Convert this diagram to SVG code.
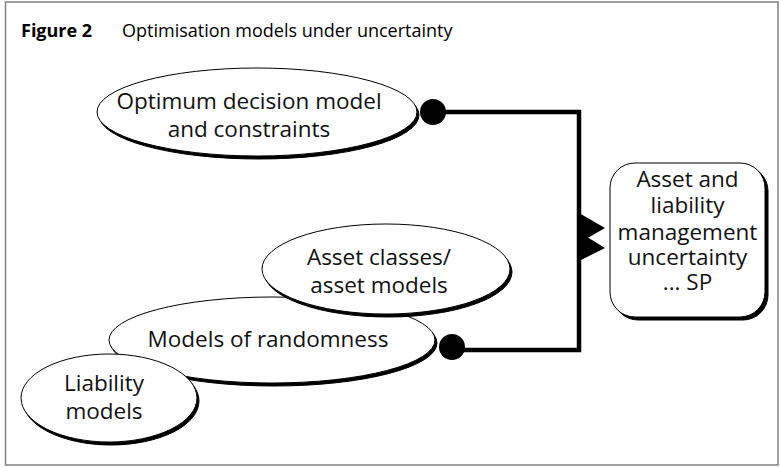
<svg xmlns="http://www.w3.org/2000/svg" width="781" height="467" viewBox="0 0 781 467">
<style>
  .frame { fill: #fff; stroke: #808080; stroke-width: 1.5; }
  .title { font-family: "Open Sans", "Liberation Sans", sans-serif; font-size: 18px; fill: #000; }
  .title-b { font-weight: bold; }
  .lbl { font-family: "Open Sans", "Liberation Sans", sans-serif; font-size: 22.5px; fill: #111; text-anchor: middle; }
  .shadow { fill: #000; stroke: #000; stroke-width: 1; }
  .shape { fill: #fff; stroke: #000; stroke-width: 1; }
  .conn { fill: none; stroke: #000; stroke-width: 4.5; stroke-linejoin: miter; }
  .dot { fill: #000; }
  .arrow { fill: #000; }
</style>
<rect class="frame" x="5.5" y="2" width="772.5" height="463"/>
<g id="title">
  <text class="title" x="21" y="37"><tspan class="title-b">Figure 2</tspan><tspan x="122">Optimisation models under uncertainty</tspan></text>
</g>
<g id="connectors">
  <polyline class="conn" points="433,112 579,112 579,350 452,350"/>
  <circle class="dot" cx="433" cy="112" r="13"/>
  <circle class="dot" cx="452" cy="347" r="13"/>
  <polygon class="arrow" points="579,213 605,228 579,243"/>
  <polygon class="arrow" points="579,232 605,248 579,261"/>
</g>
<g id="node-optimum">
  <ellipse class="shadow" cx="259" cy="115" rx="160" ry="44"/>
  <ellipse class="shape" cx="257" cy="112" rx="160" ry="44"/>
  <text class="lbl" x="249" y="109">Optimum decision model</text>
  <text class="lbl" x="249" y="137">and constraints</text>
</g>
<g id="node-randomness">
  <ellipse class="shadow" cx="274" cy="343" rx="163" ry="43"/>
  <ellipse class="shape" cx="272" cy="340" rx="163" ry="43"/>
  <text class="lbl" x="268" y="347">Models of randomness</text>
</g>
<g id="node-asset">
  <ellipse class="shadow" cx="388" cy="272" rx="124" ry="45"/>
  <ellipse class="shape" cx="386" cy="269" rx="124" ry="45"/>
  <text class="lbl" x="379" y="265">Asset classes/</text>
  <text class="lbl" x="379" y="293">asset models</text>
</g>
<g id="node-liability">
  <ellipse class="shadow" cx="111" cy="401" rx="88" ry="44"/>
  <ellipse class="shape" cx="109" cy="398" rx="88" ry="44"/>
  <text class="lbl" x="104" y="391">Liability</text>
  <text class="lbl" x="104" y="419">models</text>
</g>
<g id="node-alm">
  <rect class="shadow" x="613" y="166" width="155" height="154" rx="25"/>
  <rect class="shape" x="610" y="163" width="155" height="154" rx="25"/>
  <text class="lbl" x="687.5" y="187">Asset and</text>
  <text class="lbl" x="687.5" y="213">liability</text>
  <text class="lbl" x="687.5" y="240">management</text>
  <text class="lbl" x="687.5" y="265">uncertainty</text>
  <text class="lbl" x="687.5" y="290">... SP</text>
</g>
</svg>
